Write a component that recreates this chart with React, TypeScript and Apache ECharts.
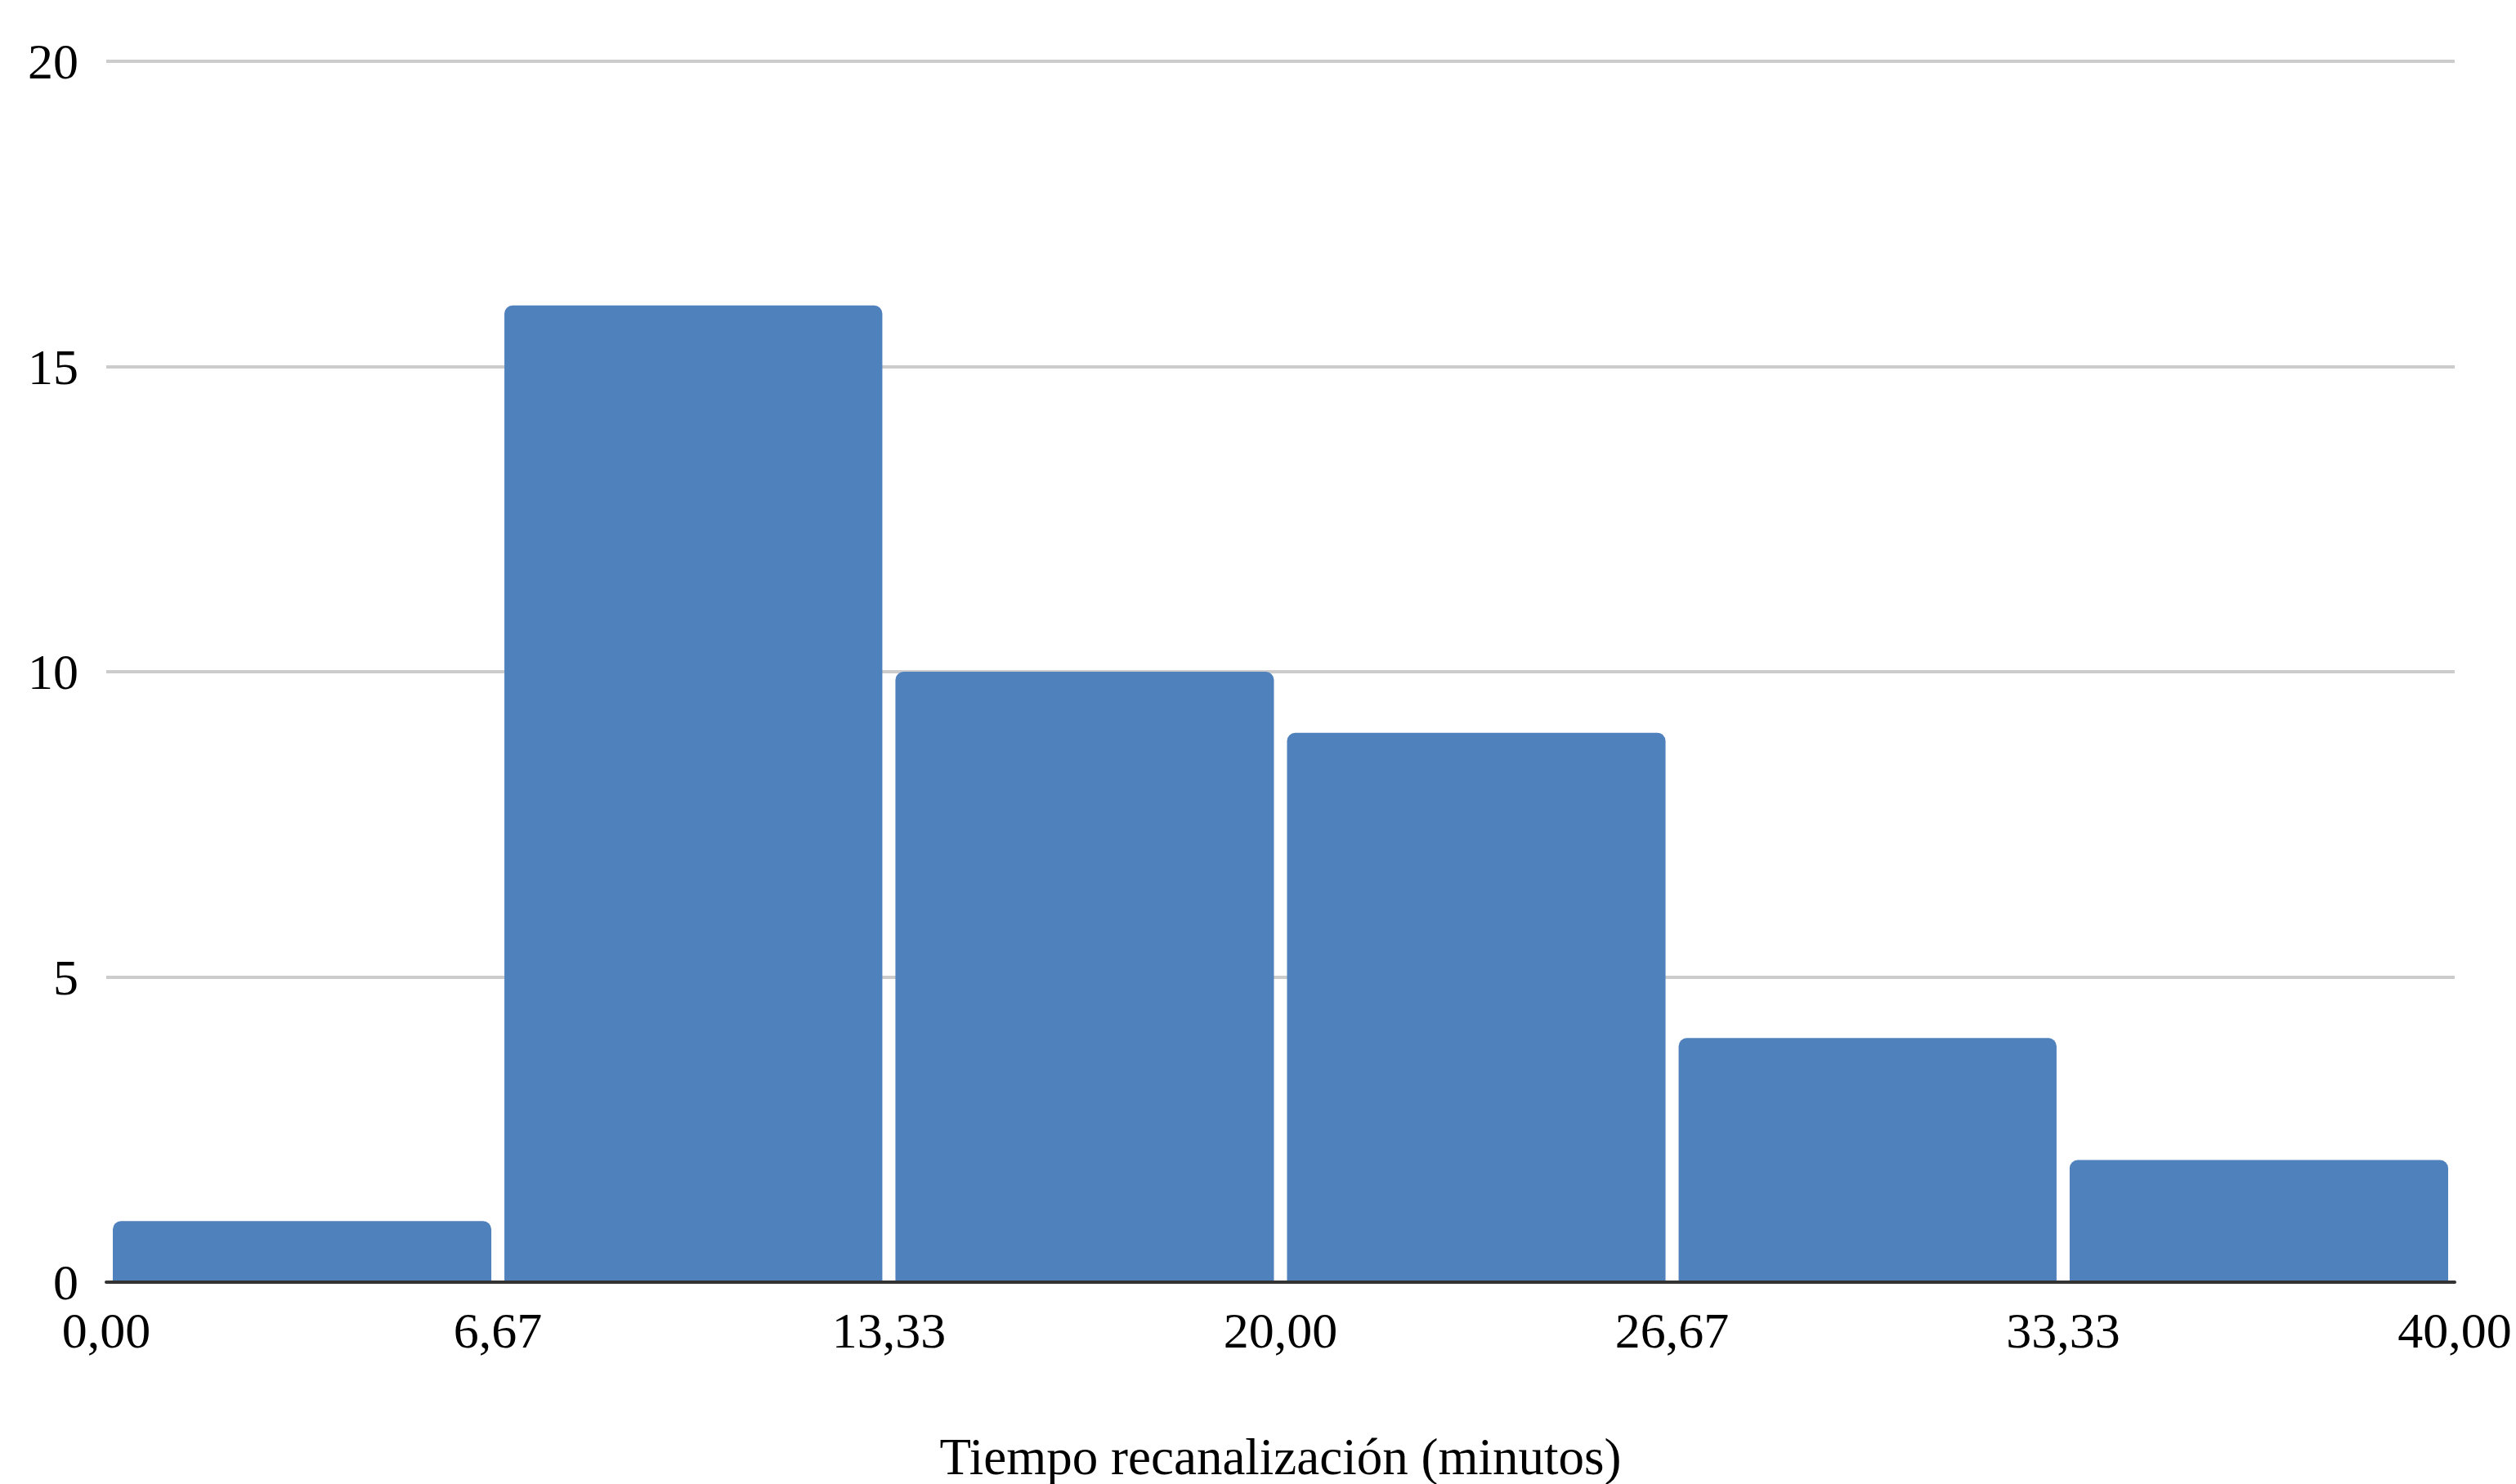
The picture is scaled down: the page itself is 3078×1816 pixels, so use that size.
import React, { useEffect, useRef } from "react";
import * as echarts from "echarts";

// Bin edges in minutes and the number of cases in each bin
const binEdges = [0, 6.67, 13.33, 20, 26.67, 33.33, 40];
const binCounts = [1, 16, 10, 9, 4, 2];
const yTicks = [0, 5, 10, 15, 20];
const xAxisTitle = "Tiempo recanalización (minutos)";

const FONT = "'Liberation Serif', 'Times New Roman', serif";
const BAR_COLOR = "#4f81bd";

export default function App() {
  const ref = useRef<HTMLDivElement>(null);

  useEffect(() => {
    if (!ref.current) return;
    const chart = echarts.init(ref.current, undefined, { renderer: "svg" });

    const bins = binCounts.map((c, i) => [binEdges[i], binEdges[i + 1], c]);

    chart.setOption({
      animation: false,
      backgroundColor: "#ffffff",
      grid: {
        left: 130,
        right: 75,
        top: 75,
        bottom: 247,
        containLabel: false,
        outerBoundsMode: "none",
      },
      xAxis: {
        type: "value",
        min: binEdges[0],
        max: binEdges[binEdges.length - 1],
        z: 3,
        axisLine: { show: true, lineStyle: { color: "#333333", width: 4 } },
        axisTick: { show: false },
        splitLine: { show: false },
        axisLabel: {
          customValues: binEdges,
          formatter: (v: number) => v.toFixed(2).replace(".", ","),
          fontFamily: FONT,
          fontSize: 62,
          color: "#000000",
          margin: 28,
          showMinLabel: true,
          showMaxLabel: true,
        },
        name: xAxisTitle,
        nameLocation: "middle",
        nameGap: 182,
        nameTextStyle: { fontFamily: FONT, fontSize: 63, color: "#000000" },
      },
      yAxis: {
        type: "value",
        min: yTicks[0],
        max: yTicks[yTicks.length - 1],
        interval: yTicks[1] - yTicks[0],
        axisLine: { show: false },
        axisTick: { show: false },
        splitLine: { show: true, lineStyle: { color: "#cccccc", width: 4 } },
        axisLabel: {
          fontFamily: FONT,
          fontSize: 62,
          color: "#000000",
          margin: 34,
        },
      },
      series: [
        {
          type: "custom",
          data: bins,
          encode: { x: [0, 1], y: 2 },
          renderItem: (_params: any, api: any) => {
            const topLeft = api.coord([api.value(0), api.value(2)]);
            const bottomRight = api.coord([api.value(1), 0]);
            const gap = 8;
            return {
              type: "rect",
              shape: {
                x: topLeft[0] + gap,
                y: topLeft[1],
                width: bottomRight[0] - topLeft[0] - 2 * gap,
                height: bottomRight[1] - topLeft[1],
                r: [10, 10, 0, 0],
              },
              style: { fill: BAR_COLOR },
            };
          },
        },
      ],
    });

    return () => chart.dispose();
  }, []);

  return (
    <div
      ref={ref}
      style={{ position: "fixed", left: 0, top: 0, width: 3078, height: 1816, background: "#fff" }}
    />
  );
}
